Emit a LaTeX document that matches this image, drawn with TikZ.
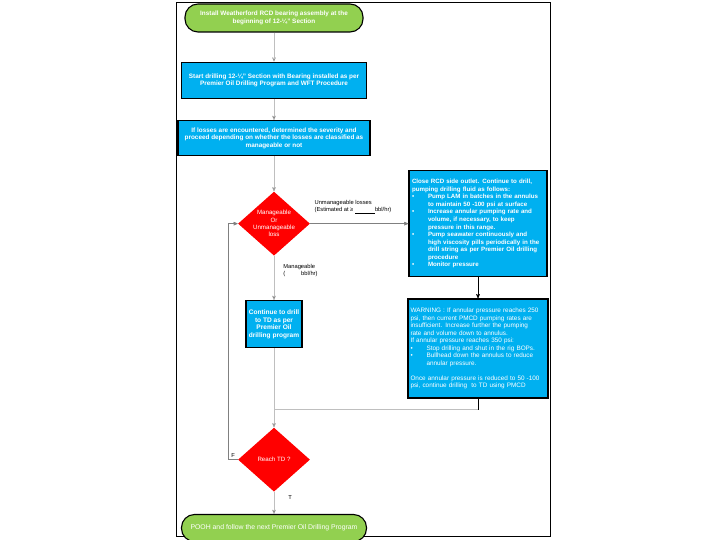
\documentclass[tikz,border=0pt]{standalone}
\usepackage{fontspec}
\setmainfont{Liberation Sans}
\usepackage{tikz}
\usetikzlibrary{arrows,shapes.geometric}
\usetikzlibrary{positioning}
\definecolor{termgreen}{HTML}{92D050}
\definecolor{procblue}{HTML}{00B0F0}
\definecolor{linegrey}{HTML}{BFBFBF}
\definecolor{loopgrey}{HTML}{808080}
\newcommand{\bitem}[1]{\par\noindent\hangindent=16bp\hangafter=1\makebox[16bp][l]{\textbullet}#1}
\newcommand{\nohyph}{\hyphenpenalty=10000\exhyphenpenalty=10000\relax}

\begin{document}
\begin{tikzpicture}[x=1bp,y=1bp,->,>=stealth',semithick,node distance=20bp,font=\fontsize{6.4}{7.4}\selectfont]
	\tikzstyle{term}=[draw=black,line width=1.1bp,fill=termgreen,rounded corners=13bp,text=white,align=center,inner sep=2bp]
	\tikzstyle{proc}=[draw=black,line width=1.4bp,fill=procblue,text=white,align=center,inner sep=2bp]
	\tikzstyle{decide}=[diamond,aspect=1.125,fill=red,text=white,align=center,inner sep=0pt,minimum width=72bp,minimum height=64bp,font=\fontsize{6.2}{7.4}\selectfont]
	\tikzstyle{lbl}=[font=\fontsize{5.8}{7}\selectfont,text=black,inner sep=1bp,align=left]
	\useasboundingbox (0,0) rectangle (720,-540);
	\draw[-,black,line width=0.9bp] (176,-2) rectangle (550,-536);
	\node[term,minimum width=178bp,minimum height=28bp] (start) at (274,-18) {\bfseries Install Weatherford RCD bearing assembly at the\\\bfseries beginning of 12-¼” Section};
	\node[proc,minimum width=185bp,minimum height=36bp] (drill) [below=29bp of start] {\bfseries Start drilling 12-¼” Section with Bearing installed as per\\\bfseries Premier Oil Drilling Program and WFT Procedure};
	\node[proc,minimum width=192bp,minimum height=35bp] (losses) [below=21bp of drill] {\bfseries If losses are encountered, determined the severity and\\\bfseries proceed depending on whether the losses are classified as\\\bfseries manageable or not};
	\node[decide] (manage) [below=35bp of losses] {Manageable\\Or\\Unmanageable\\loss};
	\node[proc,minimum width=138bp,minimum height=106bp,text width=132bp,align=left,font=\fontsize{6.2}{7.6}\selectfont\bfseries] (close) [right=98bp of manage] {\nohyph Close RCD side outlet. Continue to drill,\newline pumping drilling fluid as follows:
		\bitem{Pump LAM in batches in the annulus\newline to maintain 50 -100 psi at surface}
		\bitem{Increase annular pumping rate and\newline volume, if necessary, to keep\newline pressure in this range.}
		\bitem{Pump seawater continuously and\newline high viscosity pills periodically in the\newline drill string as per Premier Oil drilling\newline procedure}
		\bitem{Monitor pressure}};
	\node[proc,minimum width=140bp,minimum height=99bp,text width=135bp,align=left,font=\fontsize{6.4}{7.5}\selectfont] (warn) [below=21bp of close] {\nohyph WARNING : If annular pressure reaches 250\newline psi, then current PMCD pumping rates are\newline insufficient. Increase further the pumping\newline rate and volume down to annulus.\par
		\noindent If annular pressure reaches 350 psi:
		\bitem{Stop drilling and shut in the rig BOPs.}
		\bitem{Bullhead down the annulus to reduce\newline annular pressure.}\par\vspace{7.5bp}
		\noindent Once annular pressure is reduced to 50 -100\newline psi, continue drilling \ to TD using PMCD};
	\node[proc,minimum width=56bp,minimum height=47bp,font=\fontsize{6.6}{7.6}\selectfont\bfseries] (cont) [below=44bp of manage] {Continue to drill\\to TD as per\\Premier Oil\\drilling program};
	\node[decide] (reach) [below=79bp of cont] {Reach TD ?};
	\node[term,minimum width=185bp,minimum height=27bp,font=\fontsize{6.9}{8}\selectfont] (end) [below=22bp of reach] {POOH and follow the next Premier Oil Drilling Program};
	\coordinate (wk) at ([yshift=-11bp]warn.south);
	\coordinate (jn) at (wk -| cont.south);
	\path[draw=linegrey]
		(start) edge (drill)
		(drill) edge (losses)
		(losses) edge (manage)
		(manage) edge node[lbl,pos=0.34,anchor=west,xshift=8bp] {Manageable\\(\hspace{16bp}bbl/hr)} (cont)
		(cont) edge (reach)
		(reach) edge node[lbl,pos=0.25,anchor=west,xshift=13bp] {T} (end);
	\draw[loopgrey] (manage.east) -- node[lbl,pos=0,anchor=south west,xshift=3bp,yshift=9bp] {Unmanageable losses\\(Estimated at ≥ \underline{\hspace{20bp}}bbl/hr)} (close.west);
	\draw[black] (close.south) -- (close.south |- warn.north);
	\draw[-,black] (warn.south) -- (wk);
	\draw[-,linegrey] (wk) -- (jn);
	\draw[loopgrey] (reach.west) -- node[lbl,above,yshift=1bp] {F} ++(-9,0) |- (manage.west);
\end{tikzpicture}
\end{document}
